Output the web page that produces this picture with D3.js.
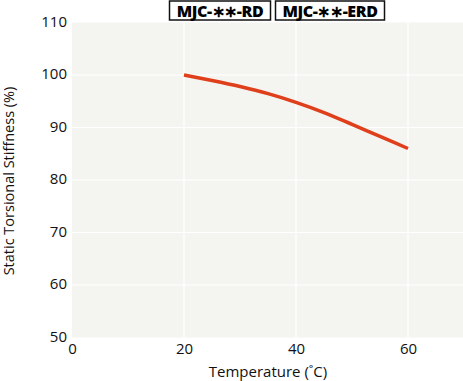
<!DOCTYPE html>
<html><head><meta charset="utf-8">
<script src="https://cdn.jsdelivr.net/npm/d3@7"></script>
<style>body{margin:0;background:#fff}svg{display:block}</style>
</head><body>
<svg id="c" width="463" height="381"></svg>
<script>
const temps = [20, 25, 30, 35, 40, 45, 50, 55, 60];
const stiffness = [100, 98.95, 97.8, 96.45, 94.8, 92.85, 90.6, 88.3, 86];
const xTicks = [0, 20, 40, 60];
const yTicks = [50, 60, 70, 80, 90, 100, 110];
const legendLabels = ["MJC-\u2217\u2217-RD", "MJC-\u2217\u2217-ERD"];
const xTitle = "Temperature (\u02DAC)";
const yTitle = "Static Torsional Stiffness (%)";

const svg = d3.select("#c");
const font = "'Open Sans', 'Noto Sans', sans-serif";
const x = d3.scaleLinear().domain([0, 70]).range([72, 464]);
const y = d3.scaleLinear().domain([50, 110]).range([337.5, 22.5]);

svg.append("rect").attr("x", x(0)).attr("y", y(110)).attr("width", x(70) - x(0)).attr("height", y(50) - y(110)).attr("fill", "#f4f4f0");

const g = svg.append("g");
g.selectAll(".vg").data(xTicks.slice(1)).join("line")
  .attr("x1", d => x(d)).attr("x2", d => x(d)).attr("y1", y(110)).attr("y2", y(50))
  .attr("stroke", "#fff").attr("stroke-width", 1.2);
g.selectAll(".hg").data(yTicks.slice(1, -1)).join("line")
  .attr("x1", x(0)).attr("x2", x(70)).attr("y1", d => y(d)).attr("y2", d => y(d))
  .attr("stroke", "#fff").attr("stroke-width", 1.2);

const xa = svg.append("g").attr("transform", `translate(0,${y(50)})`)
  .call(d3.axisBottom(x).tickValues(xTicks).tickSize(0).tickPadding(6));
xa.select(".domain").remove();
xa.selectAll("text").attr("font-family", font).attr("font-size", 15).attr("fill", "#111");

const ya = svg.append("g").attr("transform", `translate(${x(0) - 5},0)`)
  .call(d3.axisLeft(y).tickValues(yTicks).tickSize(0).tickPadding(0));
ya.select(".domain").remove();
ya.selectAll("text").attr("font-family", font).attr("font-size", 15).attr("fill", "#111").attr("dy", "0.25em");

svg.append("text").attr("x", 268).attr("y", 377).attr("text-anchor", "middle")
  .attr("font-family", font).attr("font-size", 15).attr("fill", "#111").text(xTitle);
svg.append("text").attr("transform", `translate(14,${(y(50) + y(110)) / 2 + 1}) rotate(-90)`)
  .attr("text-anchor", "middle").attr("font-family", font).attr("font-size", 14.5).attr("fill", "#111").text(yTitle);

const line = d3.line().x((d, i) => x(temps[i])).y(d => y(d)).curve(d3.curveMonotoneX);
svg.append("path").datum(stiffness).attr("d", line).attr("fill", "none")
  .attr("stroke", "#df3f1a").attr("stroke-width", 3.5).attr("stroke-linecap", "butt");

const boxes = [{x: 169.5, w: 101}, {x: 275.5, w: 109}];
legendLabels.forEach((t, i) => {
  svg.append("rect").attr("x", boxes[i].x).attr("y", 1).attr("width", boxes[i].w).attr("height", 19)
    .attr("fill", "#fff").attr("stroke", "#111").attr("stroke-width", 1.5);
  svg.append("text").attr("x", boxes[i].x + boxes[i].w / 2).attr("y", 16.5).attr("text-anchor", "middle")
    .attr("font-family", font).attr("font-weight", 800).attr("font-size", 16).attr("fill", "#000")
    .attr("letter-spacing", "-0.4").text(t);
});
</script>
</body></html>
